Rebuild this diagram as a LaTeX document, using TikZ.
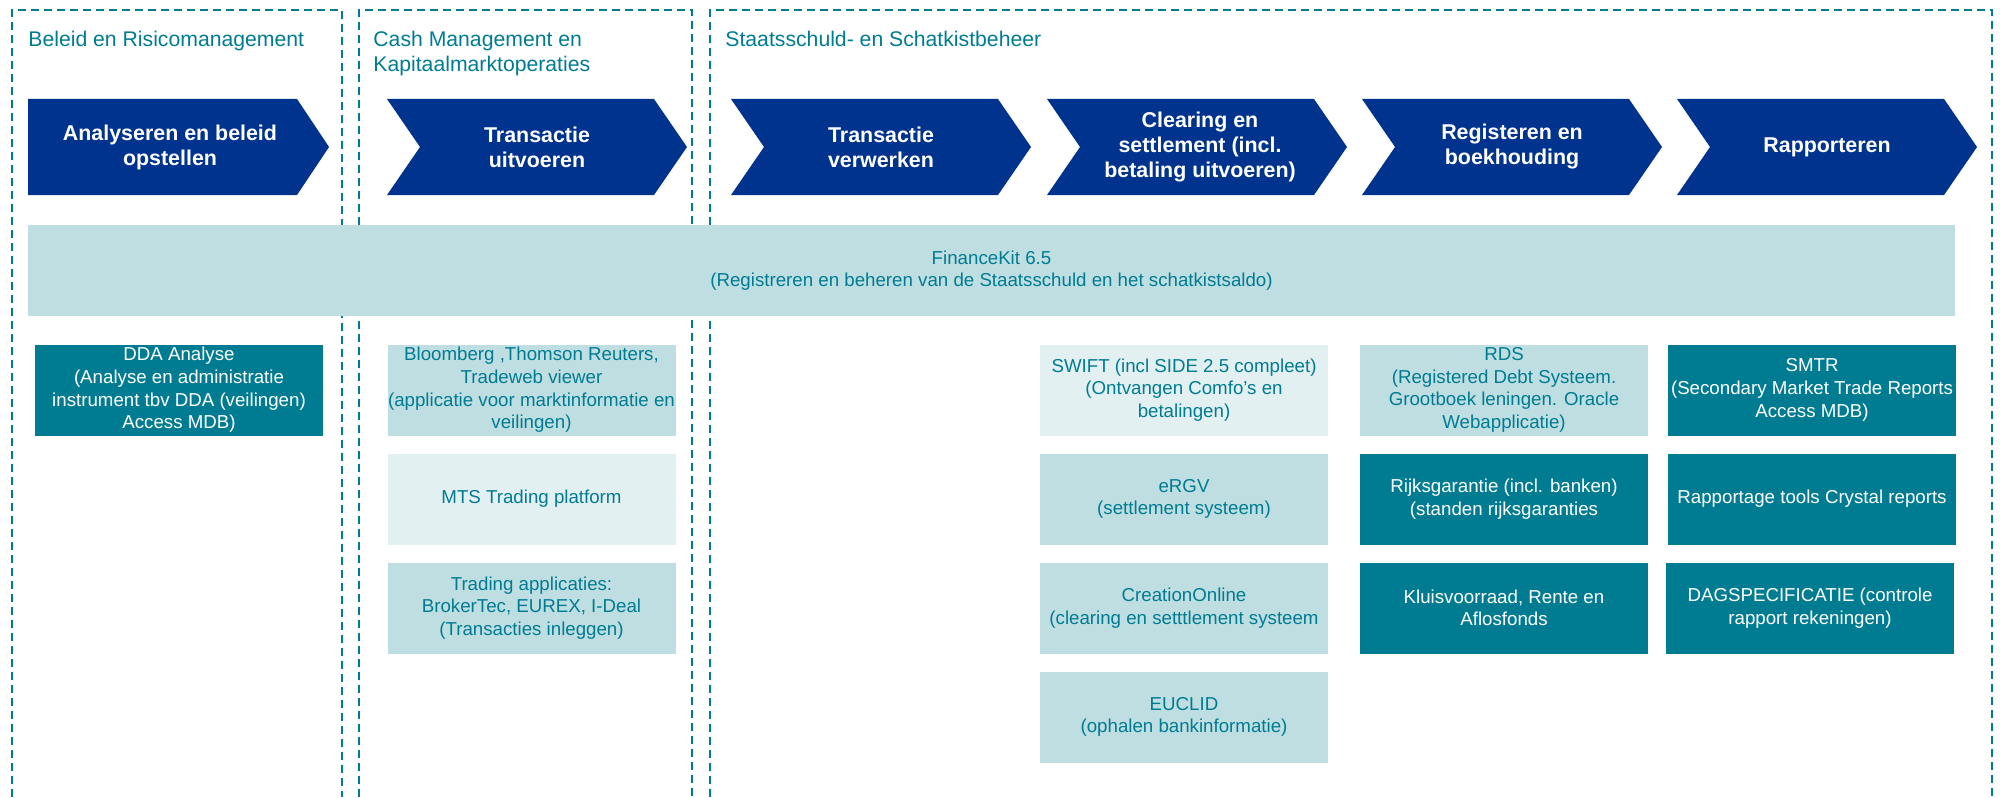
\documentclass[tikz,border=0pt]{standalone}
\usepackage{fontspec}
\setmainfont{Liberation Sans}
\definecolor{kblue}{RGB}{0,51,141}
\definecolor{kteal}{RGB}{0,124,146}
\definecolor{klight}{RGB}{190,222,226}
\definecolor{kpale}{RGB}{226,240,242}
\begin{document}
\begin{tikzpicture}[x=0.5pt, y=-0.5pt,
    zone/.style={kteal, line width=1pt, dash pattern=on 4pt off 2.5pt},
    zonetitle/.style={anchor=north west, inner sep=0pt, align=left, text=kteal,
        font=\fontsize{10.6}{12.3}\selectfont},
    stage/.style={fill=kblue},
    stagetext/.style={align=center, text=white, font=\bfseries\fontsize{10.7}{12.5}\selectfont},
    app/.style={minimum width=144pt, minimum height=45.5pt, inner sep=0pt, align=center,
        font=\fontsize{9.35}{11.3}\selectfont},
    darkapp/.style={app, fill=kteal, text=white},
    lightapp/.style={app, fill=klight, text=kteal},
    paleapp/.style={app, fill=kpale, text=kteal}]
    \useasboundingbox (0,0) rectangle (2000,797);

    \draw[zone] (12,797) |- (342,10) -- (342,797);
    \draw[zone] (359,797) |- (692,10) -- (692,797);
    \draw[zone] (710,797) |- (1992,10) -- (1992,797);

    \node[zonetitle] (t1) at (28,31) {Beleid en Risicomanagement};
    \node[zonetitle] (t2) at (373,31) {Cash Management en\\Kapitaalmarktoperaties};
    \node[zonetitle] (t3) at (725,31) {Staatsschuld- en Schatkistbeheer};

    \fill[stage] (28,99) -- (297,99) -- (329,147) -- (297,195) -- (28,195) -- cycle;
    \foreach \l in {387,731,1047,1362,1677}
        \fill[stage] (\l,99) -- ++(267,0) -- ++(33,48) -- ++(-33,48) -- ++(-267,0) -- ++(33,-48) -- cycle;

    \node[stagetext] (s1) at (170,147) {Analyseren en beleid\\opstellen};
    \node[stagetext] (s2) at (537,147) {Transactie\\uitvoeren};
    \node[stagetext] (s3) at (881,147) {Transactie\\verwerken};
    \node[stagetext] (s4) at (1200,147) {Clearing en\\settlement (incl.\\betaling uitvoeren)};
    \node[stagetext] (s5) at (1512,147) {Registeren en\\boekhouding};
    \node[stagetext] (s6) at (1827,147) {Rapporteren};

    \node[lightapp, minimum width=963.5pt] (fk) at (991.5,270.5)
        {FinanceKit 6.5\\(Registreren en beheren van de Staatsschuld en het schatkistsaldo)};

    \node[darkapp] (dda) at (179,390) {DDA Analyse\\(Analyse en administratie\\instrument tbv DDA (veilingen)\\Access MDB)};

    \node[lightapp] (bloomberg) at (531.5,390) {Bloomberg ,Thomson Reuters,\\Tradeweb viewer\\(applicatie voor marktinformatie en\\veilingen)};
    \node[paleapp] (mts) at (531.5,499) {MTS Trading platform};
    \node[lightapp] (trading) at (531.5,608) {Trading applicaties:\\BrokerTec, EUREX, I-Deal\\(Transacties inleggen)};

    \node[paleapp] (swift) at (1184,390) {SWIFT (incl SIDE 2.5 compleet)\\(Ontvangen Comfo’s en\\betalingen)};
    \node[lightapp] (ergv) at (1184,499) {eRGV\\(settlement systeem)};
    \node[lightapp] (creation) at (1184,608) {CreationOnline\\(clearing en setttlement systeem};
    \node[lightapp] (euclid) at (1184,717) {EUCLID\\(ophalen bankinformatie)};

    \node[lightapp] (rds) at (1504,390) {RDS\\(Registered Debt Systeem.\\Grootboek leningen. Oracle\\Webapplicatie)};
    \node[darkapp] (rijks) at (1504,499) {Rijksgarantie (incl. banken)\\(standen rijksgaranties};
    \node[darkapp] (kluis) at (1504,608) {Kluisvoorraad, Rente en\\Aflosfonds};

    \node[darkapp] (smtr) at (1812,390) {SMTR\\(Secondary Market Trade Reports\\Access MDB)};
    \node[darkapp] (crystal) at (1812,499) {Rapportage tools Crystal reports};
    \node[darkapp] (dag) at (1810,608) {DAGSPECIFICATIE (controle\\rapport rekeningen)};
\end{tikzpicture}
\end{document}
